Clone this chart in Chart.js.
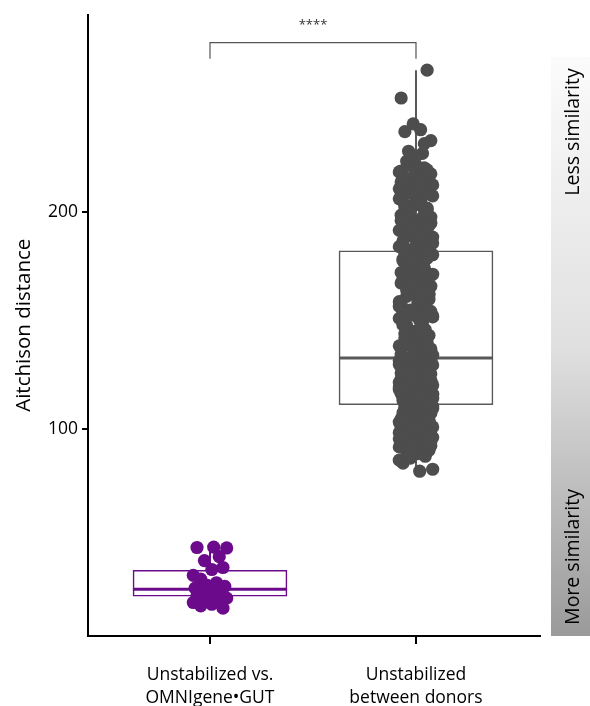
<!DOCTYPE html>
<html>
<head>
<meta charset="utf-8">
<script src="https://cdn.jsdelivr.net/npm/chart.js@4/dist/chart.umd.min.js"></script>
<style>
  html, body { margin: 0; padding: 0; background: #fff; }
  #wrap { width: 590px; height: 706px; }
</style>
</head>
<body>
<div id="wrap"><canvas id="chart" width="590" height="706"></canvas></div>
<script>
// categories and their colours
const catLabels = [["Unstabilized vs.", "OMNIgene\u2022GUT"], ["Unstabilized", "between donors"]];
const catColors = ["#6b0b8c", "#4d4d4d"];
const boxColors = ["#6b0b8c", "#595959"];

// box stats: [low whisker, q1, median, q3, high whisker]
const boxOmni = [17.8, 23.3, 26.5, 35.2, 45.9];
const boxDonors = [80.8, 111.4, 132.9, 182.2, 265.3];

// individual distances
const omniValues = [45.7, 45.9, 45.5, 39.7, 41.5, 32.9, 35.6, 36.5, 31.2, 29.5, 28.3, 27.8, 27.0, 26.6,
  26.3, 25.8, 25.2, 24.6, 24.1, 23.6, 23.0, 22.4, 21.8, 21.1, 20.4, 19.6, 17.8, 18.9];

const donorValues = [
  84.5, 80.8, 81.7, 86.8, 87.7, 85.9, 88.9, 90.4, 89.6, 91.8, 93.1, 92.5, 94.6, 95.2, 96.8, 97.4,
  93.9, 98.6, 99.3, 96.1, 100.7, 101.2, 99.8, 102.5, 103.4, 101.9, 104.2, 105.6, 103.8, 106.3, 107.5,
  104.9, 108.2, 106.9, 109.4, 110.1, 108.8, 107.9, 105.1, 102.9, 110.6, 109.9, 97.9, 95.7, 91.1, 100.3,
  104.6, 106.1, 108.5, 110.4, 94.1, 98.2, 102.1, 107.2, 109.1, 103.1, 99.0, 105.9, 101.6, 96.4,
  88.2, 90.9, 92.0, 93.4, 94.9, 95.9, 97.1, 98.9, 99.6, 100.9, 101.4, 102.7, 103.6, 104.4, 105.4,
  106.6, 107.7, 108.0, 109.7, 110.8, 96.9, 98.5, 100.1, 103.9, 106.0, 108.6, 91.4, 94.4, 101.8, 109.2,
  111.3, 112.2, 112.7, 113.6, 114.0, 115.1, 115.4, 116.3, 117.1, 117.6, 118.4, 119.0, 119.9, 120.3,
  121.4, 121.8, 122.6, 123.2, 124.1, 124.5, 125.3, 126.2, 126.7, 127.6, 128.0, 128.9, 129.7, 130.1,
  131.2, 131.6, 132.5, 111.9, 113.1, 115.0, 116.9, 118.6, 120.8, 122.2, 123.7, 125.8, 127.3, 129.2,
  130.6, 132.7, 112.5, 114.4, 117.4, 119.4, 121.6, 124.2, 126.4, 128.5, 130.4, 132.1, 113.8, 116.6,
  120.0, 123.1, 127.9, 131.3,
  111.6, 112.9, 114.6, 115.8, 116.1, 117.9, 118.1, 119.6, 120.6, 121.1, 122.9, 123.5, 124.8, 125.6,
  126.0, 127.1, 128.7, 129.4, 130.9, 131.9, 132.3, 113.3, 117.2, 120.5, 124.4, 126.9, 129.9, 114.8,
  122.3, 128.2,
  133.5, 134.8, 136.2, 137.9, 139.4, 140.8, 142.6, 144.1, 145.3, 146.9, 148.7, 150.2, 151.8, 153.4,
  155.1, 156.6, 158.3, 159.9, 161.2, 162.8, 164.5, 165.9, 167.4, 168.8, 170.3, 171.9, 173.2, 174.7,
  176.1, 177.6, 179.0, 180.4, 181.7, 135.6, 138.5, 141.7, 143.3, 147.8, 149.5, 152.6, 154.3, 157.5,
  160.7, 163.6, 166.7, 169.5, 172.6, 175.4, 178.3, 181.1, 134.2, 139.9, 145.9, 151.1, 156.0, 162.0,
  167.9, 173.9, 179.7, 137.1,
  134.5, 136.8, 138.9, 140.3, 142.1, 144.7, 146.3, 148.1, 150.8, 152.2, 154.9, 157.0, 158.8, 160.2,
  162.5, 164.1, 166.2, 168.3, 170.9, 172.2, 174.3, 176.8, 178.7, 180.9, 136.6, 143.8, 153.7, 163.1,
  171.4, 177.2,
  183.0, 184.1, 186.2, 187.8, 189.6, 190.9, 193.1, 194.9, 196.1, 198.0, 199.5, 201.1, 203.5, 205.0,
  207.1, 208.3, 210.2, 212.5, 214.3, 216.8, 218.5, 220.8, 185.0, 191.2, 197.3, 202.9, 208.0, 213.9,
  217.1, 222.1,
  182.5, 183.4, 184.6, 185.3, 186.7, 187.2, 188.5, 189.1, 190.4, 191.6, 192.3, 193.8, 194.5, 195.9,
  196.4, 197.7, 198.6, 199.2, 200.5, 201.8, 202.4, 203.9, 204.6, 205.3, 206.8, 207.5, 208.9, 209.6,
  210.7, 211.4, 212.8, 213.5, 214.9, 216.2, 217.6, 218.9, 220.3, 221.5, 219.4, 215.7, 209.9, 203.2,
  196.9, 188.9, 185.8, 192.9, 199.8, 206.1, 212.2, 218.1, 223.4,
  227.0, 240.6, 232.9, 252.5, 231.5, 228.0, 265.3, 237.0, 225.6, 237.9
];

const yTicks = [100, 200];
const sigLabel = "****";

// horizontal spread of the dots (share of max jitter), cycled
const jitterPattern = [-0.7, 0.2, 0.9, -0.3, 0.5, -0.9, 0.1, 0.7, -0.5, 0.35, -0.15, 0.8, -0.8, 0.45, -0.4, 0.6, -0.6, 0.0, 0.25];
const jitter = 0.09;
const boxHalf = 0.374;

const FONT = "'Open Sans', 'Noto Sans', sans-serif";

function dots(values, xc) {
  return values.map((v, i) => ({ x: xc + jitterPattern[i % jitterPattern.length] * jitter, y: v }));
}

const boxes = [boxOmni, boxDonors];
const datasets = [];

// whiskers (behind the boxes)
boxes.forEach((b, i) => {
  datasets.push({
    type: "line", data: [{ x: i + 1, y: b[0] }, { x: i + 1, y: b[4] }],
    borderColor: boxColors[i], borderWidth: 2, pointRadius: 0, order: 4
  });
});

// boxes as floating bars
datasets.push({
  type: "bar",
  data: boxes.map((b, i) => ({ x: i + 1, y: [b[1], b[3]] })),
  backgroundColor: "#fff",
  borderColor: boxColors,
  borderWidth: 1.6,
  borderSkipped: false,
  barThickness: 154,
  order: 3
});

// medians
boxes.forEach((b, i) => {
  datasets.push({
    type: "line", data: [{ x: i + 1 - boxHalf, y: b[2] }, { x: i + 1 + boxHalf, y: b[2] }],
    borderColor: boxColors[i], borderWidth: 3, pointRadius: 0, order: 2
  });
});

// jittered dots on top
[omniValues, donorValues].forEach((vals, i) => {
  datasets.push({
    type: "scatter", data: dots(vals, i + 1),
    backgroundColor: catColors[i], borderWidth: 0, pointRadius: 6.6, order: 0
  });
});

const extras = {
  id: "extras",
  afterDraw(chart) {
    const { ctx, scales: { x, y }, chartArea } = chart;
    ctx.save();
    // significance bracket
    const x1 = x.getPixelForValue(1), x2 = x.getPixelForValue(2);
    const yt = y.getPixelForValue(278), yb = y.getPixelForValue(270.5);
    ctx.strokeStyle = "#555";
    ctx.lineWidth = 1.2;
    ctx.beginPath();
    ctx.moveTo(x1, yb); ctx.lineTo(x1, yt); ctx.lineTo(x2, yt); ctx.lineTo(x2, yb);
    ctx.stroke();
    ctx.fillStyle = "#333";
    ctx.font = "13px " + FONT;
    ctx.textAlign = "center";
    ctx.textBaseline = "middle";
    ctx.fillText(sigLabel, (x1 + x2) / 2, yt - 17);

    // similarity gradient strip
    const gx = 551, gw = 39, gTop = 57, gBot = chartArea.bottom;
    const g = ctx.createLinearGradient(0, gTop, 0, gBot);
    g.addColorStop(0, "#fbfbfb");
    g.addColorStop(0.5, "#e0e0e0");
    g.addColorStop(1, "#9a9a9a");
    ctx.fillStyle = g;
    ctx.fillRect(gx, gTop, gw, gBot - gTop);
    ctx.fillStyle = "#000";
    ctx.font = "19.5px " + FONT;
    [["Less similarity", 132], ["More similarity", 557]].forEach(([t, cy]) => {
      ctx.save();
      ctx.translate(gx + gw / 2 + 3, cy);
      ctx.rotate(-Math.PI / 2);
      ctx.fillText(t, 0, 0);
      ctx.restore();
    });
    ctx.restore();
  }
};

new Chart(document.getElementById("chart"), {
  type: "scatter",
  data: { datasets },
  plugins: [extras],
  options: {
    responsive: false,
    animation: false,
    layout: { padding: { top: 10, right: 50, left: 0, bottom: 0 } },
    plugins: { legend: { display: false }, tooltip: { enabled: false } },
    scales: {
      x: {
        type: "linear", min: 0.4078, max: 2.602, offset: false,
        afterBuildTicks: s => { s.ticks = [{ value: 1 }, { value: 2 }]; },
        afterFit: s => { s.height = 70; },
        ticks: {
          callback: v => catLabels[v - 1],
          color: "#000", font: { family: FONT, size: 17.5, lineHeight: 1.3 }, padding: 20, maxRotation: 0
        },
        grid: { offset: false, drawOnChartArea: false, drawTicks: true, tickLength: 8, color: "#000", lineWidth: 2 },
        border: { color: "#000", width: 2 }
      },
      y: {
        min: 5, max: 290.9,
        afterBuildTicks: s => { s.ticks = yTicks.map(v => ({ value: v })); },
        afterFit: s => { s.width = 88; },
        ticks: { color: "#000", font: { family: FONT, size: 17.5 }, padding: 4 },
        grid: { drawOnChartArea: false, drawTicks: true, tickLength: 6, color: "#000", lineWidth: 2 },
        border: { color: "#000", width: 2 },
        title: {
          display: true, text: "Aitchison distance", color: "#000",
          font: { family: FONT, size: 20.5 }, padding: { top: 12, bottom: 0 }
        }
      }
    }
  }
});
</script>
</body>
</html>
